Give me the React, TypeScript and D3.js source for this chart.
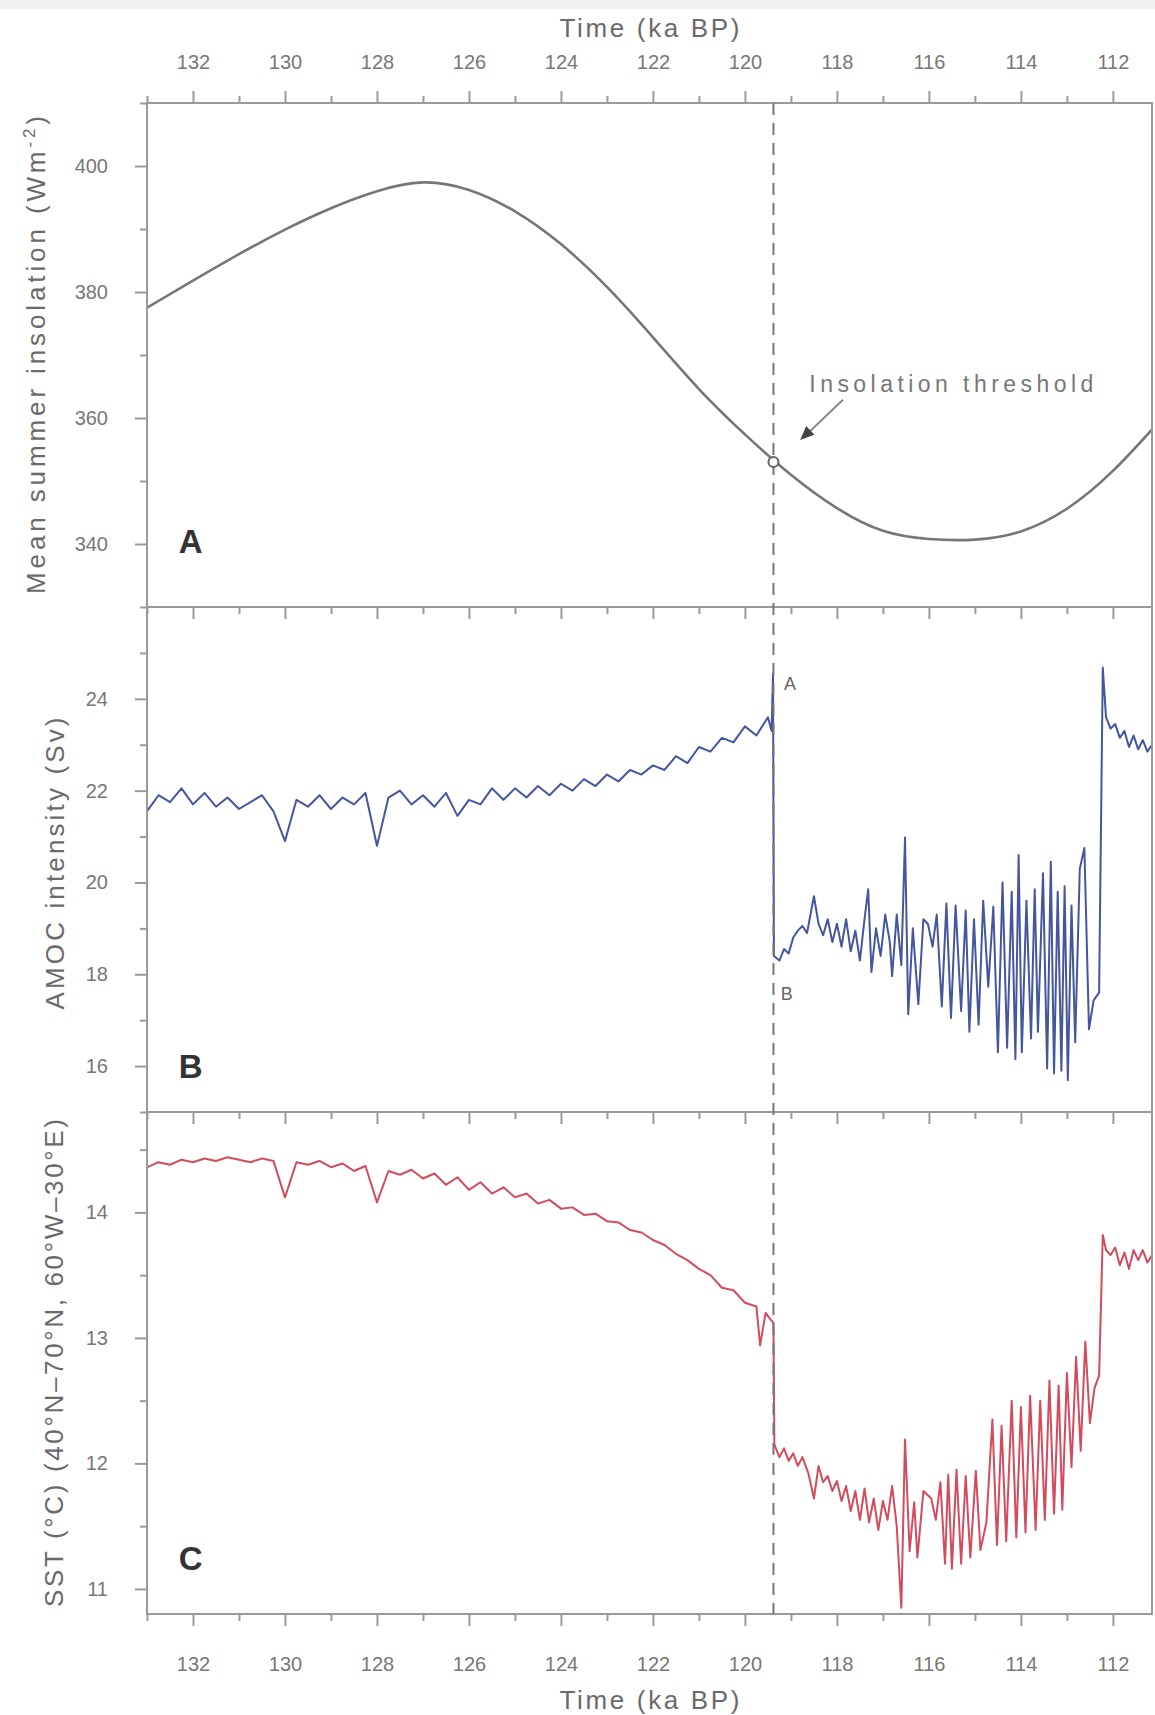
import React, { useRef, useEffect } from 'react'
import { select, scaleLinear, line, curveNatural, curveLinear, axisTop, axisBottom, axisLeft } from 'd3'

const W = 1155
const H = 1715
const LEFT = 147
const RIGHT = 1152
const FONT = 'Liberation Sans, Arial, sans-serif'
const AXIS = '#9a9a9a'
const TICK_TXT = '#777'
const TITLE_TXT = '#6a6a6a'

// time axis (ka BP), reversed
const xMajor = [132, 130, 128, 126, 124, 122, 120, 118, 116, 114, 112]
const xMinor = [133, 131, 129, 127, 125, 123, 121, 119, 117, 115, 113]
const thresholdKa = 119.38
const thresholdW = 353

// panel A - mean summer insolation
const insolKa = [133, 132, 131, 130, 129, 128, 127, 126, 125, 124, 123, 122, 121, 120, 119, 118, 117, 116, 115, 114, 113, 112, 111]
const insolW = [377.5, 381.8, 386.0, 389.9, 393.3, 396.0, 397.4, 396.2, 392.8, 387.6, 380.8, 372.8, 364.6, 357.4, 351.0, 345.7, 342.1, 340.8, 340.7, 342.0, 345.6, 351.6, 359.4]
const insolMajor = [340, 360, 380, 400]
const insolMinor = [330, 350, 370, 390, 410]

// panel B - AMOC intensity
const amocKa = [
  133, 132.75, 132.5, 132.25, 132, 131.75, 131.5, 131.25, 131, 130.75, 130.5, 130.25, 130, 129.75, 129.5, 129.25,
  129, 128.75, 128.5, 128.25, 128, 127.75, 127.5, 127.25, 127, 126.75, 126.5, 126.25, 126, 125.75, 125.5, 125.25,
  125, 124.75, 124.5, 124.25, 124, 123.75, 123.5, 123.25, 123, 122.75, 122.5, 122.25, 122, 121.75, 121.5, 121.25,
  121, 120.75, 120.5, 120.25, 120, 119.75, 119.5,
  119.42, 119.39, 119.37, 119.25, 119.15, 119.05, 118.95, 118.85, 118.75, 118.65, 118.5, 118.4, 118.3, 118.2, 118.1,
  118.0, 117.9, 117.8, 117.7, 117.6, 117.5, 117.4, 117.32, 117.25, 117.15, 117.05, 116.95, 116.85, 116.8, 116.7,
  116.6, 116.52, 116.45, 116.35, 116.23, 116.12, 116.02, 115.92, 115.83, 115.72, 115.62, 115.52, 115.42, 115.3,
  115.2, 115.12, 115.02, 114.92, 114.82, 114.71, 114.6, 114.5, 114.4, 114.3, 114.2, 114.12, 114.05, 113.98, 113.88,
  113.78, 113.7, 113.63, 113.52, 113.43, 113.35, 113.28, 113.2, 113.12, 113.05, 112.98, 112.9, 112.82, 112.72,
  112.62, 112.52, 112.42, 112.3, 112.22, 112.15, 112.05, 111.95, 111.85, 111.75, 111.65, 111.55, 111.45, 111.35,
  111.25, 111.15,
]
const amocSv = [
  21.55, 21.9, 21.75, 22.05, 21.7, 21.95, 21.65, 21.85, 21.6, 21.75, 21.9, 21.55, 20.9, 21.8, 21.65, 21.9,
  21.6, 21.85, 21.7, 21.95, 20.8, 21.85, 22.0, 21.7, 21.9, 21.65, 21.95, 21.45, 21.8, 21.7, 22.05, 21.8,
  22.05, 21.85, 22.1, 21.9, 22.15, 22.0, 22.25, 22.1, 22.35, 22.2, 22.45, 22.35, 22.55, 22.45, 22.75, 22.6,
  22.95, 22.85, 23.15, 23.05, 23.4, 23.2, 23.6,
  23.3, 24.55, 18.4, 18.3, 18.55, 18.45, 18.8, 18.95, 19.05, 18.9, 19.7, 19.1, 18.85, 19.2, 18.7,
  19.1, 18.6, 19.2, 18.5, 18.95, 18.3, 19.2, 19.85, 18.05, 19.0, 18.4, 19.3, 18.7, 17.96, 19.3,
  18.2, 20.98, 17.13, 19.0, 17.35, 19.2, 19.09, 18.6, 19.3, 17.3, 19.54, 17.05, 19.5, 17.2,
  19.39, 16.75, 19.2, 16.9, 19.6, 17.73, 19.47, 16.3, 20.0, 16.4, 19.8, 16.15, 20.6, 16.3, 19.6,
  16.6, 19.85, 16.75, 20.2, 15.95, 20.45, 15.84, 19.8, 15.9, 19.92, 15.69, 19.5, 16.52, 20.3,
  20.75, 16.8, 17.43, 17.6, 24.68, 23.6, 23.35, 23.45, 23.15, 23.3, 22.95, 23.2, 22.9, 23.1,
  22.85, 23.0,
]
const amocMajor = [16, 18, 20, 22, 24]
const amocMinor = [15, 17, 19, 21, 23, 25]

// panel C - SST
const sstKa = [
  133, 132.75, 132.5, 132.25, 132, 131.75, 131.5, 131.25, 131, 130.75, 130.5, 130.25, 130, 129.75, 129.5, 129.25,
  129, 128.75, 128.5, 128.25, 128, 127.75, 127.5, 127.25, 127, 126.75, 126.5, 126.25, 126, 125.75, 125.5, 125.25,
  125, 124.75, 124.5, 124.25, 124, 123.75, 123.5, 123.25, 123, 122.75, 122.5, 122.25, 122, 121.75, 121.5, 121.25,
  121, 120.75, 120.5, 120.25, 120, 119.75, 119.67, 119.55, 119.45, 119.38,
  119.36, 119.25, 119.15, 119.05, 118.95, 118.85, 118.75, 118.62, 118.5, 118.4, 118.3, 118.2, 118.1, 118.0, 117.9,
  117.8, 117.7, 117.6, 117.5, 117.4, 117.3, 117.2, 117.1, 117.0, 116.9, 116.8, 116.7, 116.6, 116.52, 116.42,
  116.32, 116.25, 116.12, 115.95, 115.85, 115.75, 115.65, 115.58, 115.5, 115.4, 115.3, 115.2, 115.1, 114.98,
  114.88, 114.75, 114.62, 114.52, 114.42, 114.32, 114.2, 114.1, 114.0, 113.9, 113.8, 113.68, 113.58, 113.48,
  113.38, 113.28, 113.18, 113.1, 113.0, 112.9, 112.8, 112.7, 112.6, 112.5, 112.4, 112.3, 112.22, 112.15, 112.05,
  111.95, 111.85, 111.75, 111.65, 111.55, 111.45, 111.35, 111.25, 111.15,
]
const sstC = [
  14.36, 14.4, 14.38, 14.42, 14.4, 14.43, 14.41, 14.44, 14.42, 14.4, 14.43, 14.41, 14.12, 14.4, 14.38, 14.41,
  14.36, 14.39, 14.33, 14.37, 14.08, 14.33, 14.3, 14.34, 14.27, 14.31, 14.22, 14.28, 14.18, 14.24, 14.15, 14.2,
  14.12, 14.15, 14.07, 14.1, 14.03, 14.04, 13.98, 13.99, 13.93, 13.92, 13.86, 13.84, 13.78, 13.74, 13.67, 13.62,
  13.55, 13.5, 13.4, 13.38, 13.28, 13.25, 12.94, 13.2, 13.15, 13.12,
  12.15, 12.05, 12.12, 12.02, 12.08, 11.98, 12.05, 11.92, 11.72, 11.98, 11.85, 11.9, 11.78, 11.86, 11.7,
  11.82, 11.62, 11.78, 11.55, 11.8, 11.53, 11.72, 11.47, 11.7, 11.55, 11.82, 11.5, 10.85, 12.19, 11.3,
  11.69, 11.25, 11.78, 11.72, 11.55, 11.85, 11.2, 11.91, 11.16, 11.95, 11.2, 11.9, 11.25, 11.94,
  11.31, 11.53, 12.35, 11.35, 12.3, 11.38, 12.5, 11.41, 12.45, 11.45, 12.54, 11.47, 12.5, 11.55,
  12.66, 11.6, 12.62, 11.63, 12.72, 11.97, 12.85, 12.1, 12.97, 12.32, 12.6, 12.7, 13.82, 13.7, 13.66,
  13.72, 13.58, 13.68, 13.55, 13.7, 13.62, 13.7, 13.6, 13.66,
]
const sstMajor = [11, 12, 13, 14]
const sstMinor = [11.5, 12.5, 13.5, 14.5]

const panels = [
  { id: 'A', top: 103, bottom: 607, domain: [330, 410], major: insolMajor, minor: insolMinor, ka: insolKa, val: insolW,
    color: '#767676', width: 2.6, curve: curveNatural, titleX: 36, titleLen: 478, letterY: 553 },
  { id: 'B', top: 607, bottom: 1112, domain: [15, 26], major: amocMajor, minor: amocMinor, ka: amocKa, val: amocSv,
    color: '#45569e', width: 2, curve: curveLinear, titleX: 55, titleLen: 292, letterY: 1078 },
  { id: 'C', top: 1112, bottom: 1614, domain: [10.8, 14.8], major: sstMajor, minor: sstMinor, ka: sstKa, val: sstC,
    color: '#d24c5e', width: 2, curve: curveLinear, titleX: 54, titleLen: 488, letterY: 1570 },
]

function App() {
  const svgRef = useRef<SVGSVGElement>(null)

  useEffect(() => {
    document.body.style.margin = '0'
    const svg = select(svgRef.current)
    svg.selectAll('*').remove()

    const x = scaleLinear().domain([133, 111.15]).range([LEFT, RIGHT])

    svg.append('rect').attr('x', 0).attr('y', 0).attr('width', W).attr('height', H).attr('fill', '#fff')
    svg.append('rect').attr('x', 0).attr('y', 0).attr('width', W).attr('height', 9).attr('fill', '#efefef')

    const styleAxis = (g, keepText = true) => {
      g.select('.domain').remove()
      g.selectAll('line').attr('stroke', AXIS).attr('stroke-width', 2)
      g.selectAll('text').attr('fill', TICK_TXT).attr('font-size', 20).attr('font-family', FONT)
      if (!keepText) g.selectAll('text').remove()
    }

    const scales = {}

    panels.forEach(p => {
      const y = scaleLinear().domain(p.domain).range([p.bottom, p.top])
      scales[p.id] = y

      svg.append('clipPath').attr('id', `clip-${p.id}`)
        .append('rect').attr('x', LEFT).attr('y', p.top).attr('width', RIGHT - LEFT).attr('height', p.bottom - p.top)

      const path = line<number>()
        .x((d, i) => x(p.ka[i]))
        .y(d => y(d))
        .curve(p.curve)

      svg.append('path')
        .datum(p.val)
        .attr('d', path)
        .attr('fill', 'none')
        .attr('stroke', p.color)
        .attr('stroke-width', p.width)
        .attr('stroke-linejoin', 'round')
        .attr('clip-path', `url(#clip-${p.id})`)

      // y axis
      const yMaj = svg.append('g').attr('transform', `translate(${LEFT},0)`)
        .call(axisLeft(y).tickValues(p.major).tickSize(12).tickPadding(27).tickFormat(d => String(d)))
      styleAxis(yMaj)
      const yMin = svg.append('g').attr('transform', `translate(${LEFT},0)`)
        .call(axisLeft(y).tickValues(p.minor).tickSize(7))
      styleAxis(yMin, false)

      // frame
      svg.append('rect')
        .attr('x', LEFT).attr('y', p.top).attr('width', RIGHT - LEFT).attr('height', p.bottom - p.top)
        .attr('fill', 'none').attr('stroke', AXIS).attr('stroke-width', 2)

      // panel letter
      svg.append('text')
        .attr('x', x(132.05)).attr('y', p.letterY)
        .attr('text-anchor', 'middle')
        .attr('font-family', FONT).attr('font-weight', 'bold').attr('font-size', 33)
        .attr('fill', '#333')
        .text(p.id)
    })

    // time axes
    const topMaj = svg.append('g').attr('transform', 'translate(0,103)')
      .call(axisTop(x).tickValues(xMajor).tickSize(12).tickPadding(22).tickFormat(d => String(d)))
    styleAxis(topMaj)
    const topMin = svg.append('g').attr('transform', 'translate(0,103)')
      .call(axisTop(x).tickValues(xMinor).tickSize(7))
    styleAxis(topMin, false)

    ;[607, 1112].forEach(yy => {
      const gMaj = svg.append('g').attr('transform', `translate(0,${yy})`)
        .call(axisBottom(x).tickValues(xMajor).tickSize(12))
      styleAxis(gMaj, false)
      const gMin = svg.append('g').attr('transform', `translate(0,${yy})`)
        .call(axisBottom(x).tickValues(xMinor).tickSize(7))
      styleAxis(gMin, false)
    })

    const botMaj = svg.append('g').attr('transform', 'translate(0,1614)')
      .call(axisBottom(x).tickValues(xMajor).tickSize(12).tickPadding(31).tickFormat(d => String(d)))
    styleAxis(botMaj)
    const botMin = svg.append('g').attr('transform', 'translate(0,1614)')
      .call(axisBottom(x).tickValues(xMinor).tickSize(7))
    styleAxis(botMin, false)

    // axis titles
    const mid = (LEFT + RIGHT) / 2
    ;[37, 1709].forEach(ty => {
      svg.append('text')
        .attr('x', mid).attr('y', ty)
        .attr('text-anchor', 'middle')
        .attr('font-family', FONT).attr('font-size', 26).attr('fill', TITLE_TXT)
        .attr('textLength', 180).attr('lengthAdjust', 'spacing')
        .text('Time (ka BP)')
    })

    const titleA = svg.append('text')
      .attr('transform', `translate(${panels[0].titleX + 9},${(panels[0].top + panels[0].bottom) / 2}) rotate(-90)`)
      .attr('text-anchor', 'middle')
      .attr('font-family', FONT).attr('font-size', 26).attr('fill', TITLE_TXT)
      .attr('textLength', panels[0].titleLen).attr('lengthAdjust', 'spacing')
    titleA.append('tspan').text('Mean summer insolation (Wm')
    titleA.append('tspan').attr('font-size', 17).attr('dy', -10).text('-2')
    titleA.append('tspan').attr('dy', 10).text(')')

    svg.append('text')
      .attr('transform', `translate(${panels[1].titleX + 9},${(panels[1].top + panels[1].bottom) / 2 + 4}) rotate(-90)`)
      .attr('text-anchor', 'middle')
      .attr('font-family', FONT).attr('font-size', 26).attr('fill', TITLE_TXT)
      .attr('textLength', panels[1].titleLen).attr('lengthAdjust', 'spacing')
      .text('AMOC intensity (Sv)')

    svg.append('text')
      .attr('transform', `translate(${panels[2].titleX + 9},${(panels[2].top + panels[2].bottom) / 2}) rotate(-90)`)
      .attr('text-anchor', 'middle')
      .attr('font-family', FONT).attr('font-size', 26).attr('fill', TITLE_TXT)
      .attr('textLength', panels[2].titleLen).attr('lengthAdjust', 'spacing')
      .text('SST (°C) (40°N–70°N, 60°W–30°E)')

    // threshold dashed line
    svg.append('line')
      .attr('x1', x(thresholdKa)).attr('x2', x(thresholdKa))
      .attr('y1', 103).attr('y2', 1614)
      .attr('stroke', '#777').attr('stroke-width', 2).attr('stroke-dasharray', '12 8')

    const yA = scales['A']
    const yB = scales['B']

    svg.append('circle')
      .attr('cx', x(thresholdKa)).attr('cy', yA(thresholdW)).attr('r', 5)
      .attr('fill', '#fff').attr('stroke', '#666').attr('stroke-width', 2)

    // annotation
    svg.append('text')
      .attr('x', x(118.6)).attr('y', yA(364.1))
      .attr('font-family', FONT).attr('font-size', 23).attr('fill', '#777')
      .attr('textLength', 284).attr('lengthAdjust', 'spacing')
      .text('Insolation threshold')

    const ax1 = x(117.87), ay1 = yA(362.9)
    const ax2 = x(118.8), ay2 = yA(356.5)
    svg.append('line')
      .attr('x1', ax1).attr('y1', ay1).attr('x2', ax2 + 8).attr('y2', ay2 - 7)
      .attr('stroke', '#888').attr('stroke-width', 2)
    const ang = Math.atan2(ay2 - ay1, ax2 - ax1)
    const hl = 14, hw = 6
    const bx = ax2 - hl * Math.cos(ang), by = ay2 - hl * Math.sin(ang)
    svg.append('path')
      .attr('d', `M${ax2},${ay2}L${bx - hw * Math.sin(ang)},${by + hw * Math.cos(ang)}L${bx + hw * Math.sin(ang)},${by - hw * Math.cos(ang)}Z`)
      .attr('fill', '#444')

    // state labels beside threshold
    svg.append('text')
      .attr('x', x(119.02)).attr('y', yB(24.2))
      .attr('text-anchor', 'middle')
      .attr('font-family', FONT).attr('font-size', 18).attr('fill', '#666')
      .text('A')
    svg.append('text')
      .attr('x', x(119.09)).attr('y', yB(17.45))
      .attr('text-anchor', 'middle')
      .attr('font-family', FONT).attr('font-size', 18).attr('fill', '#666')
      .text('B')
  }, [])

  return (
    <div>
      <svg ref={svgRef} width={W} height={H} style={{ display: 'block' }} />
    </div>
  )
}

export default App
